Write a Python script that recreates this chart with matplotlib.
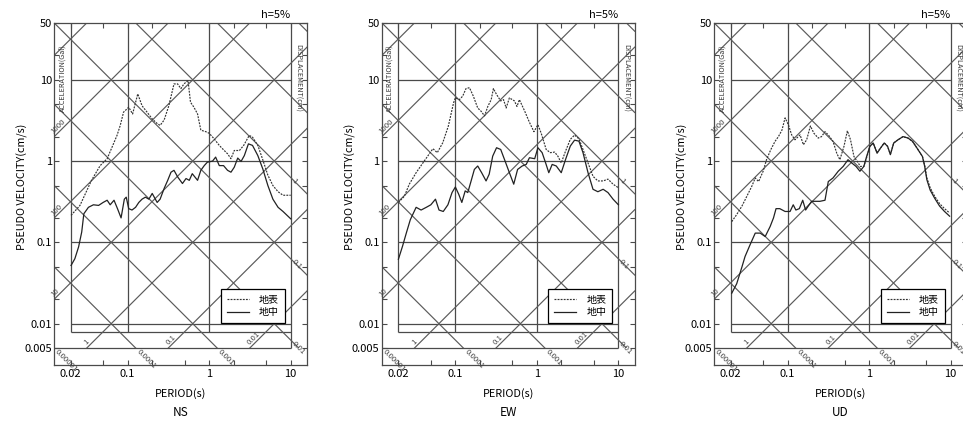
import numpy as np
import matplotlib.pyplot as plt
from matplotlib.patches import Rectangle

plt.rcParams['font.family'] = ['Noto Sans CJK JP', 'DejaVu Sans']

# period (s) / pseudo velocity (cm/s)
ns_surf_T = [0.0202, 0.026, 0.036, 0.046, 0.056, 0.074, 0.081, 0.089, 0.103, 0.115, 0.122, 0.133,
             0.150, 0.173, 0.20, 0.23, 0.25, 0.28, 0.32, 0.37, 0.41, 0.45, 0.49, 0.55, 0.59, 0.65,
             0.72, 0.79, 0.91, 1.0, 1.15, 1.33, 1.53, 1.68, 1.85, 2.03, 2.35, 2.65, 3.1, 3.4, 3.95,
             4.5, 5.25, 6.05, 7.0, 8.05, 10.0]
ns_surf_V = [0.215, 0.285, 0.58, 0.88, 1.07, 2.07, 2.74, 4.0, 4.6, 3.8, 4.8, 6.7,
             4.8, 4.0, 3.3, 2.9, 2.75, 3.2, 4.8, 8.9, 8.9, 7.8, 8.9, 9.8, 5.3, 4.6,
             3.8, 2.4, 2.3, 2.2, 1.88, 1.56, 1.35, 1.23, 1.07, 1.35, 1.35, 1.56, 2.07, 1.97, 1.56,
             1.07, 0.67, 0.50, 0.42, 0.38, 0.38]
ns_deep_T = [0.0202, 0.0225, 0.025, 0.0273, 0.029, 0.033, 0.038, 0.044, 0.050, 0.056, 0.061, 0.068,
             0.075, 0.083, 0.091, 0.096, 0.103, 0.113, 0.125, 0.137, 0.150, 0.165, 0.182, 0.20,
             0.23, 0.25, 0.28, 0.31, 0.34, 0.37, 0.41, 0.47, 0.52, 0.57, 0.62, 0.72, 0.79, 0.87,
             0.95, 1.1, 1.2, 1.33, 1.5, 1.68, 1.85, 2.03, 2.24, 2.46, 2.7, 3.03, 3.4, 3.95, 4.55,
             5.25, 6.05, 7.0, 8.05, 10.0]
ns_deep_V = [0.052, 0.063, 0.088, 0.134, 0.225, 0.27, 0.29, 0.285, 0.31, 0.33, 0.29, 0.33,
             0.26, 0.20, 0.34, 0.36, 0.26, 0.25, 0.27, 0.31, 0.34, 0.36, 0.34, 0.40,
             0.31, 0.34, 0.46, 0.58, 0.73, 0.77, 0.64, 0.53, 0.61, 0.58, 0.70, 0.58, 0.77, 0.88,
             0.97, 1.0, 1.12, 0.88, 0.88, 0.77, 0.73, 0.84, 1.09, 0.99, 1.17, 1.63, 1.56, 1.17, 0.80,
             0.50, 0.34, 0.27, 0.24, 0.195]

ew_surf_T = [0.020, 0.0237, 0.0272, 0.033, 0.040, 0.053, 0.060, 0.070, 0.082, 0.095, 0.100, 0.112,
             0.123, 0.135, 0.149, 0.166, 0.188, 0.207, 0.228, 0.25, 0.275, 0.293, 0.32, 0.36, 0.39,
             0.42, 0.46, 0.53, 0.57, 0.61, 0.71, 0.81, 0.92, 1.03, 1.13, 1.3, 1.46, 1.65, 1.81,
             1.99, 2.25, 2.57, 2.9, 3.28, 3.68, 4.24, 4.88, 5.6, 6.5, 7.45, 8.6, 10.0]
ew_surf_V = [0.31, 0.37, 0.52, 0.72, 0.95, 1.42, 1.27, 1.68, 2.7, 5.2, 6.0, 5.7,
             6.3, 7.8, 8.0, 6.3, 4.5, 4.1, 3.6, 4.7, 5.7, 7.8, 6.6, 5.5, 5.7,
             4.5, 6.0, 5.5, 4.7, 5.7, 4.1, 3.0, 2.3, 2.8, 2.2, 1.39, 1.27, 1.29, 1.15,
             0.95, 1.33, 1.85, 2.09, 1.88, 1.39, 0.95, 0.65, 0.57, 0.57, 0.60, 0.52, 0.47]
ew_deep_T = [0.020, 0.0225, 0.025, 0.028, 0.033, 0.038, 0.044, 0.050, 0.057, 0.063, 0.071, 0.081,
             0.091, 0.100, 0.110, 0.120, 0.132, 0.142, 0.156, 0.171, 0.188, 0.21, 0.238, 0.26,
             0.287, 0.32, 0.36, 0.40, 0.46, 0.52, 0.58, 0.66, 0.74, 0.81, 0.94, 1.03, 1.16, 1.28,
             1.4, 1.54, 1.73, 1.99, 2.25, 2.57, 2.9, 3.28, 3.68, 4.24, 4.88, 5.6, 6.5, 7.45, 8.6, 10.0]
ew_deep_V = [0.062, 0.09, 0.13, 0.19, 0.27, 0.25, 0.27, 0.29, 0.34, 0.25, 0.24, 0.29,
             0.41, 0.48, 0.39, 0.31, 0.43, 0.41, 0.57, 0.79, 0.87, 0.72, 0.57, 0.69,
             1.15, 1.46, 1.39, 1.05, 0.72, 0.52, 0.79, 0.87, 0.91, 1.1, 1.07, 1.46, 1.27, 0.95,
             0.72, 0.91, 0.87, 0.72, 1.05, 1.53, 1.81, 1.76, 1.27, 0.72, 0.45, 0.42, 0.45, 0.41, 0.34, 0.29]

ud_surf_T = [0.0206, 0.0237, 0.0275, 0.0316, 0.0363, 0.040, 0.044, 0.050, 0.055, 0.062, 0.070, 0.077,
             0.085, 0.093, 0.102, 0.112, 0.123, 0.142, 0.156, 0.171, 0.19, 0.21, 0.237, 0.26, 0.287,
             0.315, 0.36, 0.40, 0.437, 0.49, 0.54, 0.59, 0.65, 0.71, 0.78, 0.86, 0.94, 1.02, 1.12,
             1.25, 1.38, 1.53, 1.68, 1.82, 2.0, 2.26, 2.6, 3.0, 3.4, 3.98, 4.5, 4.8, 5.1, 5.6, 6.35,
             7.3, 8.4, 9.7]
ud_surf_V = [0.18, 0.22, 0.28, 0.37, 0.49, 0.62, 0.56, 0.75, 1.04, 1.38, 1.75, 2.0,
             2.4, 3.4, 2.8, 2.1, 1.83, 2.1, 1.59, 1.83, 2.7, 2.2, 1.92, 2.0, 2.3,
             2.1, 1.75, 1.25, 1.04, 1.51, 2.36, 1.83, 1.14, 1.0, 0.86, 0.86, 1.14, 1.52, 1.67,
             1.27, 1.45, 1.67, 1.52, 1.22, 1.67, 1.83, 2.0, 1.92, 1.75, 1.38, 1.14, 0.88, 0.62, 0.47, 0.37,
             0.30, 0.26, 0.23]
ud_deep_T = [0.0206, 0.0237, 0.0275, 0.030, 0.0345, 0.040, 0.046, 0.053, 0.061, 0.067, 0.072, 0.080,
             0.093, 0.107, 0.117, 0.126, 0.139, 0.153, 0.166, 0.179, 0.197, 0.216, 0.249, 0.287,
             0.315, 0.36, 0.417, 0.48, 0.55, 0.61, 0.69, 0.77, 0.86, 0.93, 1.02, 1.12, 1.25, 1.38,
             1.53, 1.68, 1.82, 2.0, 2.26, 2.6, 3.0, 3.4, 3.98, 4.5, 4.8, 5.1, 5.6, 6.35, 7.3, 8.4, 9.7]
ud_deep_V = [0.0237, 0.031, 0.05, 0.067, 0.093, 0.13, 0.13, 0.118, 0.157, 0.20, 0.26, 0.26,
             0.24, 0.24, 0.29, 0.25, 0.26, 0.33, 0.25, 0.28, 0.32, 0.32, 0.32, 0.33,
             0.56, 0.62, 0.75, 0.86, 1.04, 0.95, 0.86, 0.75, 0.86, 1.14, 1.52, 1.67, 1.25, 1.45,
             1.67, 1.52, 1.2, 1.67, 1.83, 2.0, 1.92, 1.75, 1.38, 1.14, 0.86, 0.59, 0.44, 0.35, 0.28, 0.24, 0.21]

panels = ['NS', 'EW', 'UD']
panel_left_px = [54, 381.7, 714]

x_ticks = [0.02, 0.1, 1, 10]
x_ticklabels = ['0.02', '0.1', '1', '10']
y_ticks = [50, 10, 1, 0.1, 0.01, 0.005]
y_ticklabels = ['50', '10', '1', '0.1', '0.01', '0.005']

acc_levels = [0.01, 0.1, 1, 10, 100, 1000, 10000]          # Gal
disp_levels = [1e-5, 1e-4, 1e-3, 1e-2, 1e-1, 1, 10, 100]    # cm
acc_left_labels = {1000: '1000', 100: '100', 10: '10'}
acc_bottom_labels = {1: '1', 0.1: '0.1', 0.01: '0.01'}
disp_bottom_labels = {1e-5: '0.00001', 1e-4: '0.0001', 1e-3: '0.001'}
disp_right_labels = {1: '1', 0.1: '0.1', 0.01: '0.01'}

XMIN, XMAX = 0.01248, 15.85
YMIN, YMAX = 0.0031, 50
GRID = '#4a4a4a'
TWO_PI = 2 * np.pi

W, H = 963, 428
fig = plt.figure(figsize=(W / 100, H / 100), dpi=100)


def draw_panel(ax, name, sT, sV, dT, dV):
    ax.set_xscale('log')
    ax.set_yscale('log')
    ax.set_xlim(XMIN, XMAX)
    ax.set_ylim(YMIN, YMAX)

    # straight grid
    ax.hlines([10, 1, 0.1, 0.01, 0.008], 0.02, 10, color=GRID, lw=0.9)
    ax.hlines(0.005, XMIN, 10, color=GRID, lw=0.9)
    ax.vlines([0.02, 0.1, 1], 0.008, YMAX, color=GRID, lw=0.9)
    ax.vlines(10, 0.005, YMAX, color=GRID, lw=0.9)

    # tripartite diagonals
    clip = Rectangle((XMIN, 0.005), XMAX - XMIN, YMAX - 0.005, transform=ax.transData,
                     fill=False, visible=False)
    ax.add_patch(clip)
    T = np.array([XMIN, XMAX])
    for a in acc_levels:
        ln, = ax.plot(T, a * T / TWO_PI, color='#5a5a5a', lw=0.85)
        ln.set_clip_path(clip)
    for d in disp_levels:
        ln, = ax.plot(T, TWO_PI * d / T, color='#5a5a5a', lw=0.85)
        ln.set_clip_path(clip)

    lab = dict(fontsize=5.6, color='#444444', rotation_mode='anchor')
    for a, s in acc_left_labels.items():
        t0 = XMIN * 1.03
        ax.annotate(s, (t0, a * t0 / TWO_PI), ha='left', va='bottom', rotation=45, **lab)
    for a, s in acc_bottom_labels.items():
        v0 = 0.0052
        ax.annotate(s, (TWO_PI * v0 / a, v0), ha='left', va='bottom', rotation=45, **lab)
    for d, s in disp_bottom_labels.items():
        v0 = 0.005
        ax.annotate(s, (TWO_PI * d / v0, v0), xytext=(1.5, -1.5), textcoords='offset points',
                    ha='left', va='center', rotation=-45, **lab)
    for d, s in disp_right_labels.items():
        t0 = 10.0
        ax.annotate(s, (t0, TWO_PI * d / t0), xytext=(1.5, -1.5), textcoords='offset points',
                    ha='left', va='center', rotation=-45, **lab)

    # spectra
    ax.plot(sT, sV, color='#333333', lw=0.85, ls=(0, (1.6, 1.0)), label='地表')
    ax.plot(dT, dV, color='#222222', lw=0.9, label='地中')

    leg = ax.legend(loc='lower right', bbox_to_anchor=(0.912, 0.122), fontsize=7.2,
                    fancybox=False, framealpha=1, edgecolor='black', borderpad=0.6,
                    handlelength=2.2, handletextpad=1.0, labelspacing=0.25, borderaxespad=0)
    leg.get_frame().set_linewidth(0.9)

    # ticks
    ax.set_xticks(x_ticks)
    ax.set_xticklabels(x_ticklabels)
    ax.set_xticks([0.05, 0.2, 0.5, 2, 5], minor=True)
    ax.set_xticklabels([], minor=True)
    ax.set_yticks(y_ticks)
    ax.set_yticklabels(y_ticklabels)
    ax.set_yticks([20, 5, 2, 0.5, 0.2, 0.05, 0.02], minor=True)
    ax.set_yticklabels([], minor=True)
    ax.tick_params(which='both', direction='in', length=3.6, width=0.8, color=GRID,
                   top=True, right=True, labelsize=8)
    ax.tick_params(axis='x', pad=3)
    ax.tick_params(axis='y', pad=1.5)
    for sp in ax.spines.values():
        sp.set_color(GRID)
        sp.set_linewidth(0.9)

    ax.text(0.032, 0.84, 'ACCELERATION(Gal)', transform=ax.transAxes, rotation=90,
            ha='center', va='center', fontsize=5.2, color='#333333')
    ax.text(0.964, 0.84, 'DISPLACEMENT(cm)', transform=ax.transAxes, rotation=-90,
            ha='center', va='center', fontsize=5.2, color='#333333')
    ax.text(0.933, 1.022, 'h=5%', transform=ax.transAxes, ha='right', va='center', fontsize=8)
    ax.text(-0.125, 0.522, 'PSEUDO VELOCITY(cm/s)', transform=ax.transAxes, rotation=90,
            ha='center', va='center', fontsize=7.8)
    ax.text(0.5, -0.082, 'PERIOD(s)', transform=ax.transAxes, ha='center', va='center',
            fontsize=7.8)
    ax.text(0.5, -0.14, name, transform=ax.transAxes, ha='center', va='center', fontsize=8.5)


data = [(ns_surf_T, ns_surf_V, ns_deep_T, ns_deep_V),
        (ew_surf_T, ew_surf_V, ew_deep_T, ew_deep_V),
        (ud_surf_T, ud_surf_V, ud_deep_T, ud_deep_V)]

for name, left, d in zip(panels, panel_left_px, data):
    ax = fig.add_axes([left / W, (H - 365) / H, 253 / W, 342 / H])
    draw_panel(ax, name, *d)

fig.savefig('out.png', dpi=100)
